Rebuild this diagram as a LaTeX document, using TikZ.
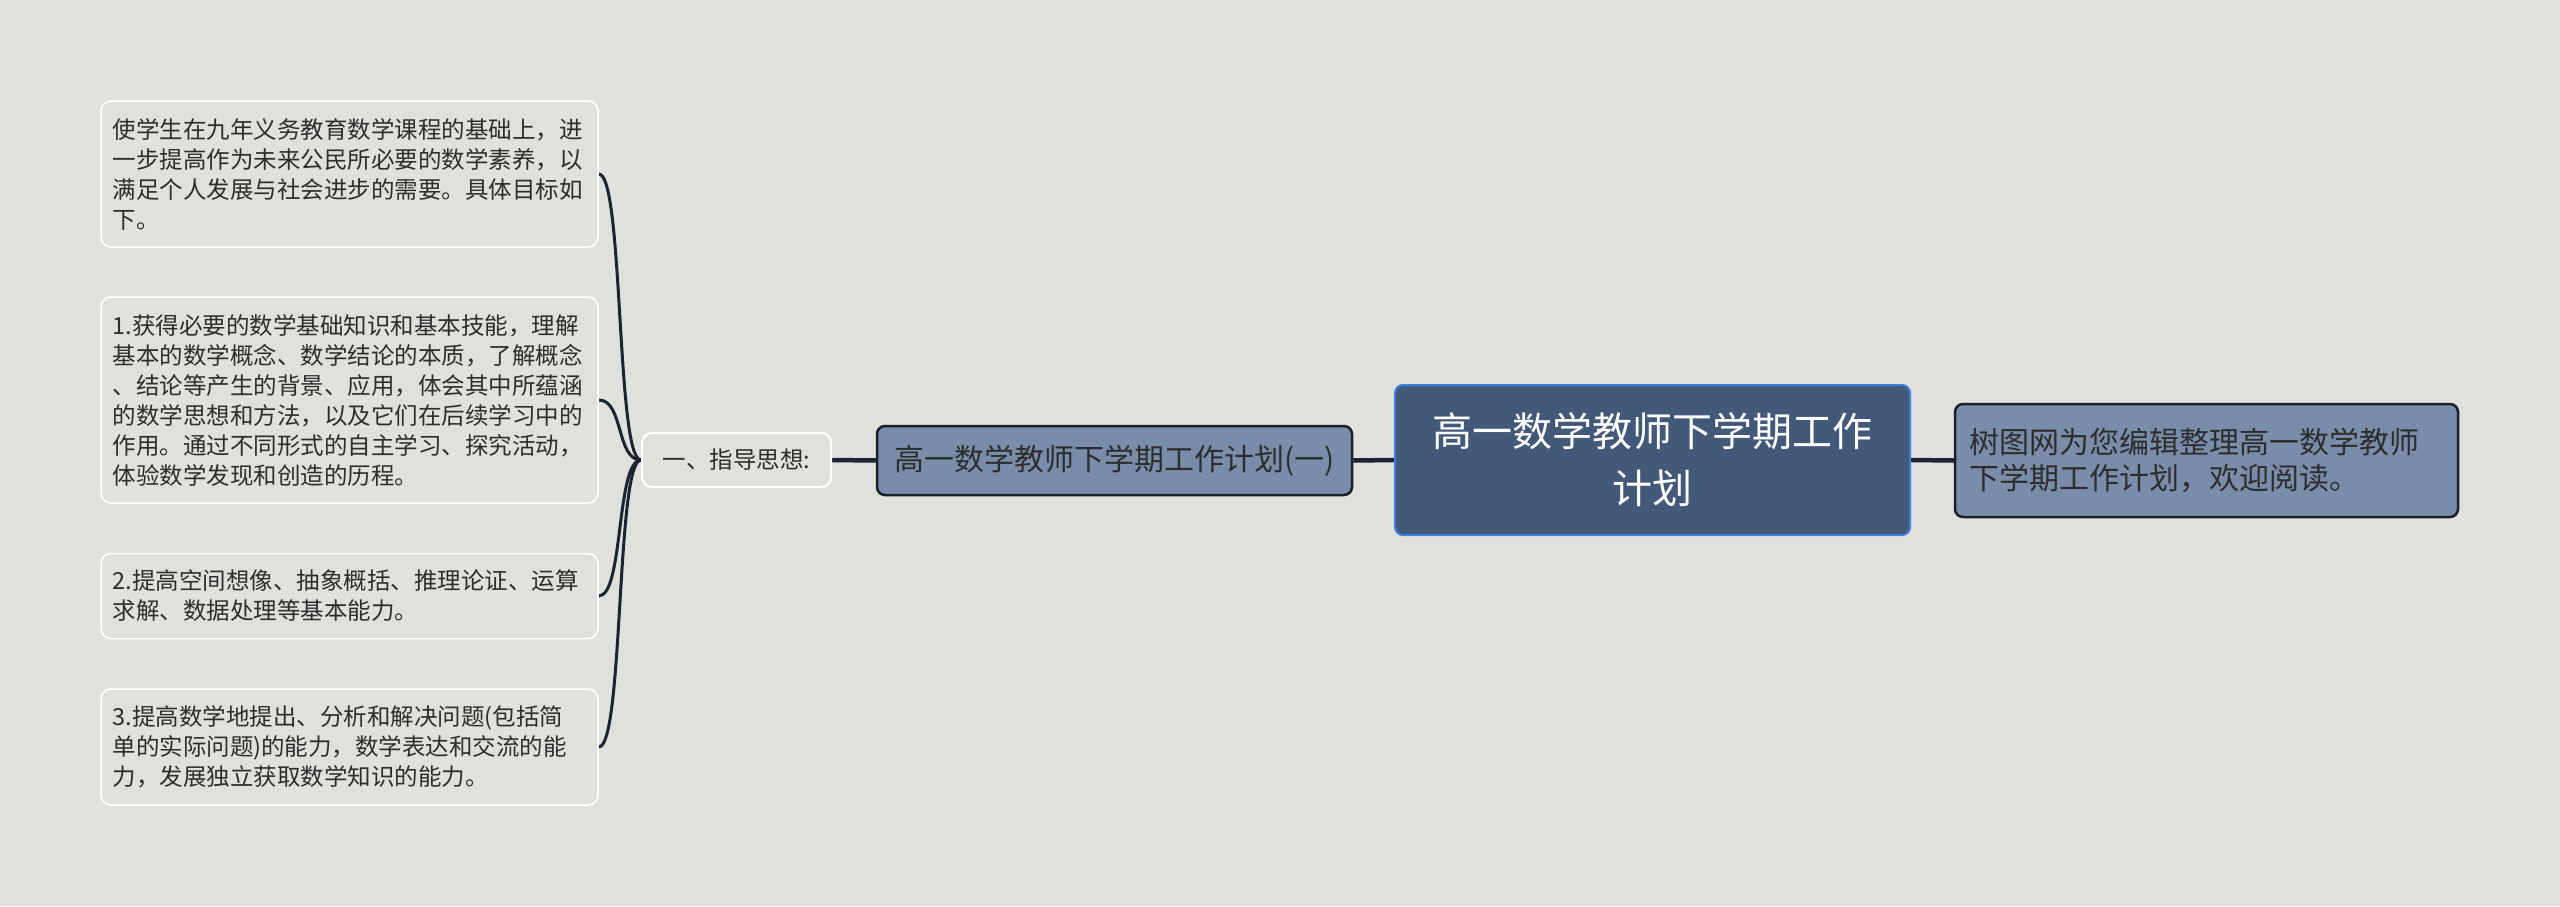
\documentclass[tikz,border=0pt]{standalone}
\usepackage{fontspec}
\setmainfont{Noto Sans CJK SC}
\usetikzlibrary{backgrounds}
\pgfdeclarelayer{bottom}
\pgfsetlayers{bottom,background,main}
\definecolor{bg}{RGB}{224,225,220}
\definecolor{rootc}{RGB}{67,89,122}
\definecolor{rootb}{RGB}{60,127,216}
\definecolor{midc}{RGB}{121,141,171}
\definecolor{darkb}{RGB}{27,31,42}
\definecolor{lc}{RGB}{27,36,51}
\definecolor{txt}{RGB}{45,45,45}
\tikzset{
  leaf/.style={draw=white, line width=1.5pt, fill=bg, rounded corners=10pt, text=txt,
    align=left, text width=474pt, inner xsep=11.5pt, inner ysep=0pt,
    font=\fontsize{23.5}{30}\selectfont},
  conn/.style={draw=lc, line width=3pt},
  bigconn/.style={draw=lc, line width=4.5pt},
  midbox/.style={draw=darkb, line width=2.5pt, fill=midc, rounded corners=8pt, text=txt},
}
\begin{document}
\begin{tikzpicture}[x=1pt,y=-1pt]
\begin{pgfonlayer}{bottom}
\fill[bg] (0,0) rectangle (2560,906);
\end{pgfonlayer}
\useasboundingbox (0,0) rectangle (2560,906);

\node[leaf, minimum height=146pt] (l1) at (349.5,174) {使学生在九年义务教育数学课程的基础上，进\\一步提高作为未来公民所必要的数学素养，以\\满足个人发展与社会进步的需要。具体目标如\\下。};
\node[leaf, minimum height=206pt] (l2) at (349.5,400) {1.获得必要的数学基础知识和基本技能，理解\\基本的数学概念、数学结论的本质，了解概念\\、结论等产生的背景、应用，体会其中所蕴涵\\的数学思想和方法，以及它们在后续学习中的\\作用。通过不同形式的自主学习、探究活动，\\体验数学发现和创造的历程。};
\node[leaf, minimum height=85pt] (l3) at (349.5,596) {2.提高空间想像、抽象概括、推理论证、运算\\求解、数据处理等基本能力。};
\node[leaf, minimum height=116pt] (l4) at (349.5,747) {3.提高数学地提出、分析和解决问题(包括简\\单的实际问题)的能力，数学表达和交流的能\\力，发展独立获取数学知识的能力。};

\node[draw=white, line width=2pt, fill=bg, rounded corners=10pt, text=txt,
  minimum width=189pt, minimum height=54pt, inner sep=0pt,
  font=\fontsize{23.5}{28}\selectfont] (yi) at (736.5,460) {一、指导思想:};

\node[midbox, minimum width=475pt, minimum height=69pt, inner sep=0pt,
  font=\fontsize{30}{36}\selectfont] (mid) at (1114.5,460.5) {高一数学教师下学期工作计划(一)};

\node[draw=rootb, line width=2pt, fill=rootc, rounded corners=8pt, text=white,
  minimum width=515pt, minimum height=150pt, inner sep=0pt, align=center,
  font=\fontsize{40}{57}\selectfont] (root) at (1652.5,460) {高一数学教师下学期工作\\计划};

\node[midbox, minimum height=113pt, text width=475pt, inner xsep=14pt, inner ysep=0pt,
  align=left, font=\fontsize{30}{36}\selectfont] (right) at (2206.5,460.5) {树图网为您编辑整理高一数学教师\\下学期工作计划，欢迎阅读。};

\begin{pgfonlayer}{background}
\draw[conn] (yi.west) .. controls +(-25,0) and +(25,0) .. (l1.east);
\draw[conn] (yi.west) .. controls +(-25,0) and +(25,0) .. (l2.east);
\draw[conn] (yi.west) .. controls +(-25,0) and +(25,0) .. (l3.east);
\draw[conn] (yi.west) .. controls +(-25,0) and +(25,0) .. (l4.east);
\draw[bigconn] (yi.east) -- (mid.west);
\draw[bigconn] (mid.east) -- (root.west);
\draw[bigconn] (root.east) -- (right.west);
\end{pgfonlayer}
\end{tikzpicture}
\end{document}
